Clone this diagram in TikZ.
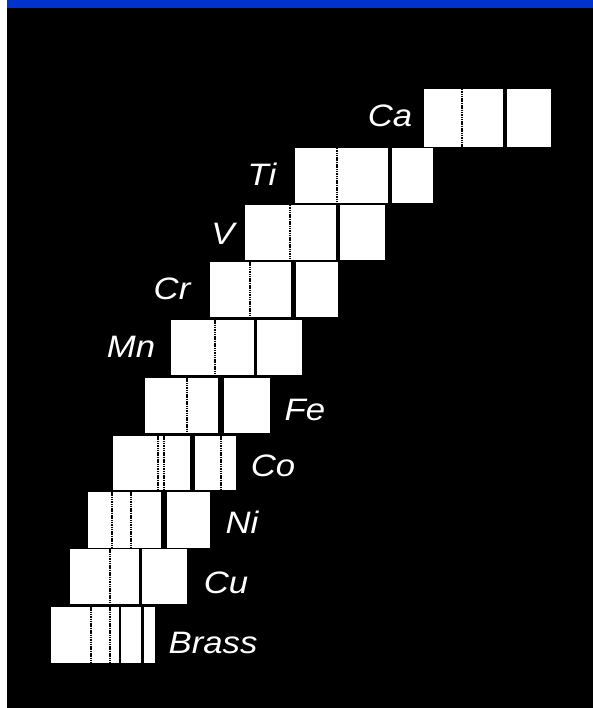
\documentclass[tikz,border=0pt]{standalone}
\usepackage{fontspec}
\setmainfont{Liberation Sans}[FakeStretch=1.12]
\definecolor{topblue}{RGB}{0,51,204}
\tikzset{
  specbox/.style={rectangle, fill=white, draw=none, inner sep=0pt, anchor=north west},
  specline/.style={black, line width=2pt, dash pattern=on 1.5pt off 0.8pt},
  elabel/.style={text=white, inner sep=0pt, font=\fontsize{31}{31}\selectfont\itshape}
}

\begin{document}
\begin{tikzpicture}[x=1pt, y=-1pt]
  \useasboundingbox (0,0) rectangle (593,708);
  \fill[white] (0,0) rectangle (593,708);
  \fill[black] (7,8) rectangle (593,708);
  \fill[topblue] (7,0) rectangle (593,8);

  % Ca
  \node[specbox, minimum width=79pt, minimum height=58pt] (ca1) at (424,89) {};
  \node[specbox, minimum width=44pt, minimum height=58pt] (ca2) at (507,89) {};
  \draw[specline] (ca1.north west) ++(38,0) -- ++(0,58);
  \node[elabel] (caname) at (390,116) {Ca};

  % Ti
  \node[specbox, minimum width=93pt, minimum height=55pt] (ti1) at (295,148) {};
  \node[specbox, minimum width=41pt, minimum height=55pt] (ti2) at (392,148) {};
  \draw[specline] (ti1.north west) ++(41.5,0) -- ++(0,55);
  \node[elabel] (tiname) at (262,174) {Ti};

  % V
  \node[specbox, minimum width=91pt, minimum height=55pt] (v1) at (245,205) {};
  \node[specbox, minimum width=45.5pt, minimum height=55pt] (v2) at (339.5,205) {};
  \draw[specline] (v1.north west) ++(45,0) -- ++(0,55);
  \node[elabel] (vname) at (223,234) {V};

  % Cr
  \node[specbox, minimum width=81pt, minimum height=55pt] (cr1) at (209.5,262) {};
  \node[specbox, minimum width=42pt, minimum height=55pt] (cr2) at (296,262) {};
  \draw[specline] (cr1.north west) ++(40.5,0) -- ++(0,55);
  \node[elabel] (crname) at (172,289) {Cr};

  % Mn
  \node[specbox, minimum width=83pt, minimum height=55pt] (mn1) at (171,320) {};
  \node[specbox, minimum width=44.5pt, minimum height=55pt] (mn2) at (257,320) {};
  \draw[specline] (mn1.north west) ++(44,0) -- ++(0,55);
  \node[elabel] (mnname) at (131,347) {Mn};

  % Fe
  \node[specbox, minimum width=73pt, minimum height=55pt] (fe1) at (145,378) {};
  \node[specbox, minimum width=46pt, minimum height=55pt] (fe2) at (224,378) {};
  \draw[specline] (fe1.north west) ++(41.5,0) -- ++(0,55);
  \node[elabel] (fename) at (305,410) {Fe};

  % Co
  \node[specbox, minimum width=76.5pt, minimum height=54pt] (co1) at (113,436) {};
  \node[specbox, minimum width=41pt, minimum height=54pt] (co2) at (195,436) {};
  \draw[specline] (co1.north west) ++(44.5,0) -- ++(0,54);
  \draw[specline] (co1.north west) ++(51,0) -- ++(0,54);
  \draw[specline] (co2.north west) ++(26,0) -- ++(0,54);
  \node[elabel] (coname) at (273,466) {Co};

  % Ni
  \node[specbox, minimum width=73.5pt, minimum height=56pt] (ni1) at (87.5,492) {};
  \node[specbox, minimum width=43.5pt, minimum height=56pt] (ni2) at (166.5,492) {};
  \draw[specline] (ni1.north west) ++(24,0) -- ++(0,56);
  \draw[specline] (ni1.north west) ++(43,0) -- ++(0,56);
  \node[elabel] (niname) at (242,522) {Ni};

  % Cu
  \node[specbox, minimum width=68.5pt, minimum height=55pt] (cu1) at (70,549) {};
  \node[specbox, minimum width=44.5pt, minimum height=55pt] (cu2) at (142,549) {};
  \draw[specline] (cu1.north west) ++(40,0) -- ++(0,55);
  \node[elabel] (cuname) at (226,583) {Cu};

  % Brass
  \node[specbox, minimum width=67.5pt, minimum height=56pt] (br1) at (51,607) {};
  \node[specbox, minimum width=20pt, minimum height=56pt] (br2) at (121,607) {};
  \node[specbox, minimum width=11pt, minimum height=56pt] (br3) at (143.5,607) {};
  \draw[specline] (br1.north west) ++(39.5,0) -- ++(0,56);
  \draw[specline] (br1.north west) ++(59,0) -- ++(0,56);
  \node[elabel] (brname) at (213,643) {Brass};
\end{tikzpicture}
\end{document}
